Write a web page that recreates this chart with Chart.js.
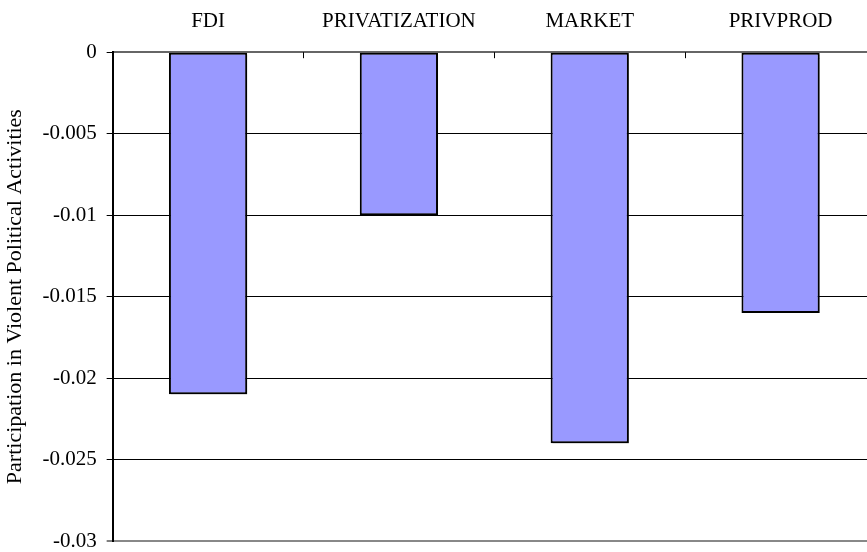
<!DOCTYPE html>
<html>
<head>
<meta charset="utf-8">
<script src="https://cdn.jsdelivr.net/npm/chart.js@4"></script>
<style>
  html, body { margin: 0; padding: 0; background: #fff; overflow: hidden; }
  #wrap { width: 880px; height: 552px; }
</style>
</head>
<body>
<div id="wrap"><canvas id="grafico"></canvas></div>
<script>
const categorias = ['FDI', 'PRIVATIZATION', 'MARKET', 'PRIVPROD'];
const valores = [-0.021, -0.01, -0.024, -0.016];
const tituloY = 'Participation in Violent Political Activities';

// small tick marks pointing into the plot from the top axis, between categories
const marcasTopo = {
    id: 'marcasTopo',
    afterDatasetsDraw(chart) {
        const ctx = chart.ctx;
        const x = chart.scales.x;
        const top = chart.chartArea.top;
        ctx.save();
        ctx.strokeStyle = '#000';
        ctx.lineWidth = 1;
        for (let i = 1; i < categorias.length; i++) {
            const px = Math.round((x.getPixelForValue(i - 1) + x.getPixelForValue(i)) / 2) + 0.5;
            ctx.beginPath();
            ctx.moveTo(px, top);
            ctx.lineTo(px, top + 6);
            ctx.stroke();
        }
        ctx.restore();
    }
};

// grey drop shadow under the bars
const sombra = {
    id: 'sombra',
    beforeDatasetDraw(chart) {
        const ctx = chart.ctx;
        ctx.save();
        ctx.shadowColor = 'rgba(0,0,0,0.35)';
        ctx.shadowOffsetX = 2;
        ctx.shadowOffsetY = 2;
        ctx.shadowBlur = 1;
    },
    afterDatasetDraw(chart) {
        chart.ctx.restore();
    }
};

const fonte = { family: 'Liberation Serif', size: 21 };

const ctx = document.getElementById('grafico').getContext('2d');
new Chart(ctx, {
    type: 'bar',
    data: {
        labels: categorias,
        datasets: [{
            data: valores,
            backgroundColor: '#9999FF',
            borderColor: '#000',
            borderWidth: 2,
            borderSkipped: false,
            barPercentage: 0.41,
            categoryPercentage: 1
        }]
    },
    options: {
        responsive: true,
        maintainAspectRatio: false,
        animation: false,
        layout: { padding: { top: -9, right: 4, bottom: 0, left: 2 } },
        plugins: {
            legend: { display: false },
            tooltip: { enabled: false }
        },
        scales: {
            x: {
                position: 'top',
                offset: true,
                grid: { display: false, drawTicks: false },
                border: { color: '#666', width: 2 },
                ticks: {
                    color: '#000',
                    padding: 18,
                    font: fonte
                }
            },
            y: {
                min: -0.03,
                max: 0,
                afterFit: s => { s.paddingBottom = 11; },
                grid: {
                    color: c => (c.tick && c.tick.value === -0.03) ? '#888' : '#000',
                    lineWidth: c => (c.tick && c.tick.value === -0.03) ? 2 : 1,
                    tickColor: '#000',
                    tickWidth: 1,
                    tickLength: 6
                },
                border: { color: '#000', width: 2 },
                ticks: {
                    stepSize: 0.005,
                    color: '#000',
                    padding: 10,
                    font: fonte,
                    callback: v => String(Number(v.toFixed(3)))
                },
                title: {
                    display: true,
                    text: tituloY,
                    color: '#000',
                    padding: { top: 0, bottom: 4 },
                    font: { family: 'Liberation Serif', size: 22 }
                }
            }
        }
    },
    plugins: [marcasTopo, sombra]
});
</script>
</body>
</html>
